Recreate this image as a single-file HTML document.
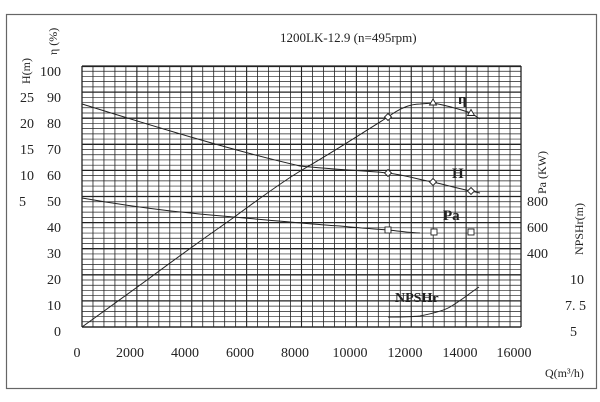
<!DOCTYPE html>
<html><head><meta charset="utf-8"><style>
body{margin:0;background:#fff;}
svg{display:block;}
text{font-family:"Liberation Serif","Noto Serif CJK SC",serif;fill:#222;}
</style></head><body>
<svg width="600" height="402" viewBox="0 0 600 402" xmlns="http://www.w3.org/2000/svg">
<rect x="0" y="0" width="600" height="402" fill="#fff"/>
<rect x="6.5" y="14.5" width="590" height="374" fill="none" stroke="#666" stroke-width="1.2"/>
<g id="grid" stroke="#222" stroke-width="0.8">
<script>0</script>
</g>
<g stroke="#222" stroke-width="0.8" fill="none">
<path d="M82 66.5H521 M82 327H521 M82 66V327 M521 66V327" stroke-width="1.2"/>
</g>
<g id="g2"></g>
<g fill="none" stroke="#222" stroke-width="1">
<path d="M82,104 C150,125 230,150 300,166 C340,170 370,171 388,173 C410,176 420,180 433,182 C450,186 460,189 471,191 L480,193"/>
<path d="M82,327 L147,280 C190,248 233,218 233,218 C260,198 285,180 302,170 C340,148 370,128 388,117 C400,108 410,104 420,104 L433,103 C450,106 462,110 471,113 L480,119"/>
<path d="M82,198 C150,210 200,214 233,217 C280,221 320,225 340,226 C360,228 375,229 388,230 C400,231 410,233 420,233"/>
<path d="M388,317 C400,317 410,317 420,316 C435,313 445,310 450,307 C462,300 470,293 479,287"/>
</g>
<g fill="#fff" stroke="#222" stroke-width="0.9">
<path d="M388,169.5 L391.5,173 L388,176.5 L384.5,173Z"/>
<path d="M433,178.5 L436.5,182 L433,185.5 L429.5,182Z"/>
<path d="M471,187.5 L474.5,191 L471,194.5 L467.5,191Z"/>
<path d="M388,113.5 L391.5,117 L388,120.5 L384.5,117Z"/>
<path d="M433,99 L436.5,105 L429.5,105Z"/>
<path d="M471,109.5 L474.5,115.5 L467.5,115.5Z"/>
<rect x="385" y="227" width="6" height="6"/>
<rect x="431" y="229" width="6" height="6"/>
<rect x="468" y="229" width="6" height="6"/>
</g>
<g font-size="15" font-weight="bold">
<text x="458" y="104">η</text>
<text x="452" y="178">H</text>
<text x="443" y="220">Pa</text>
<text x="395" y="302" font-size="14">NPSHr</text>
</g>
<text x="280" y="42" font-size="13">1200LK-12.9 (n=495rpm)</text>
<g font-size="14" text-anchor="end">
<text x="61" y="76">100</text><text x="61" y="102">90</text><text x="61" y="128">80</text><text x="61" y="154">70</text><text x="61" y="180">60</text><text x="61" y="206">50</text><text x="61" y="232">40</text><text x="61" y="258">30</text><text x="61" y="284">20</text><text x="61" y="310">10</text><text x="61" y="336">0</text>
<text x="34" y="102">25</text><text x="34" y="128">20</text><text x="34" y="154">15</text><text x="34" y="180">10</text><text x="26" y="206">5</text>
</g>
<g font-size="14">
<text x="527" y="206">800</text><text x="527" y="232">600</text><text x="527" y="258">400</text>
<text x="570" y="284">10</text><text x="565" y="310">7. 5</text><text x="570" y="336">5</text>
</g>
<g font-size="14" text-anchor="middle">
<text x="77" y="357">0</text><text x="130" y="357">2000</text><text x="185" y="357">4000</text><text x="240" y="357">6000</text><text x="295" y="357">8000</text><text x="350" y="357">10000</text><text x="405" y="357">12000</text><text x="460" y="357">14000</text><text x="514" y="357">16000</text>
</g>
<text x="545" y="377" font-size="12">Q(m³/h)</text>
<g font-size="12">
<text transform="translate(30,84) rotate(-90)">H(m)</text>
<text transform="translate(57,55) rotate(-90)">η (%)</text>
<text transform="translate(546,194) rotate(-90)">Pa (KW)</text>
<text transform="translate(583,255) rotate(-90)">NPSHr(m)</text>
</g>
</svg>
<script>
(function(){
var ns="http://www.w3.org/2000/svg",g=document.getElementById("grid");
g.innerHTML="";
function ln(x1,y1,x2,y2,w){var l=document.createElementNS(ns,"line");l.setAttribute("x1",x1);l.setAttribute("y1",y1);l.setAttribute("x2",x2);l.setAttribute("y2",y2);if(w)l.setAttribute("stroke-width",w);g.appendChild(l);}
for(var i=0;i<=40;i++){var x=82+i*439/40;ln(x,66,x,327,i%5==0?1.1:0.8);}
for(var j=0;j<=50;j++){var y=66+j*261/50;ln(82,y,521,y,j%5==0?1.3:0.7);}
})();
</script>
</body></html>
